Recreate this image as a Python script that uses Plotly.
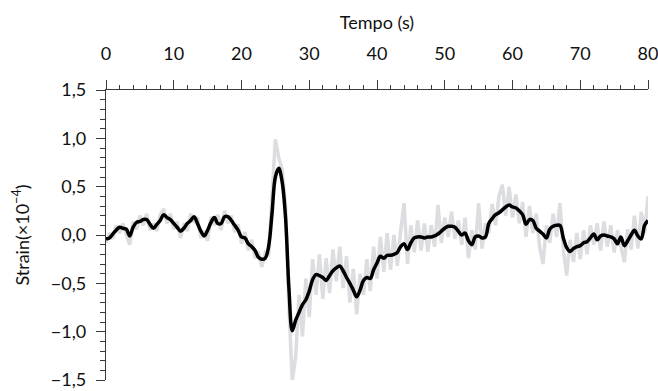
import plotly.graph_objects as go

# time axis (s), 0.5 s steps
tempo = [i * 0.5 for i in range(161)]

# smoothed strain (x1e-4)
strain_suave = [
    -0.04, -0.03, 0.01, 0.05, 0.08, 0.07, 0.06, -0.01, 0.08, 0.13,
    0.14, 0.16, 0.16, 0.11, 0.07, 0.11, 0.15, 0.21, 0.18, 0.16,
    0.12, 0.08, 0.04, 0.07, 0.12, 0.15, 0.19, 0.12, 0.04, -0.01,
    0.05, 0.13, 0.18, 0.12, 0.12, 0.19, 0.19, 0.15, 0.10, 0.05,
    -0.02, -0.03, -0.09, -0.12, -0.16, -0.23, -0.25, -0.24, -0.12, 0.22,
    0.60, 0.69, 0.55, 0.18, -0.55, -0.99, -0.88, -0.80, -0.72, -0.67,
    -0.58, -0.46, -0.41, -0.42, -0.44, -0.47, -0.42, -0.37, -0.34, -0.32,
    -0.37, -0.44, -0.50, -0.57, -0.64, -0.57, -0.47, -0.44, -0.45, -0.36,
    -0.29, -0.22, -0.24, -0.21, -0.21, -0.20, -0.18, -0.12, -0.09, -0.15,
    -0.08, -0.03, -0.02, -0.02, -0.03, -0.02, -0.02, -0.01, 0.01, 0.04,
    0.07, 0.09, 0.09, 0.08, 0.04, 0.00, 0.02, -0.06, -0.10, -0.02,
    -0.01, -0.03, -0.02, 0.12, 0.17, 0.21, 0.23, 0.26, 0.29, 0.31,
    0.29, 0.28, 0.25, 0.21, 0.11, 0.16, 0.15, 0.07, 0.04, 0.01,
    -0.03, 0.06, 0.09, 0.10, 0.10, -0.03, -0.13, -0.17, -0.14, -0.12,
    -0.11, -0.08, -0.07, -0.03, 0.01, -0.05, -0.01, 0.00, -0.01, -0.02,
    -0.04, -0.09, -0.02, -0.11, -0.06, 0.00, 0.05, -0.01, -0.04, 0.10,
    0.15,
]

# raw (noisy) strain
strain_bruto = [
    -0.08, 0.02, -0.04, 0.10, 0.02, 0.12, 0.00, -0.10, 0.14, 0.06,
    0.20, 0.10, 0.22, 0.05, 0.12, 0.04, 0.21, 0.27, 0.12, 0.22,
    0.06, 0.14, -0.03, 0.12, 0.04, 0.22, 0.13, 0.18, -0.03, 0.04,
    -0.06, 0.19, 0.10, 0.21, 0.05, 0.25, 0.12, 0.20, 0.03, 0.11,
    -0.09, 0.03, -0.16, -0.05, -0.24, -0.17, -0.33, -0.18, -0.20, 0.35,
    0.99, 0.80, 0.68, 0.30, -0.75, -1.52, -1.25, -0.62, -1.05, -0.45,
    -0.85, -0.25, -0.62, -0.20, -0.66, -0.24, -0.60, -0.15, -0.48, -0.12,
    -0.55, -0.22, -0.70, -0.35, -0.82, -0.40, -0.62, -0.25, -0.58, -0.12,
    -0.45, -0.02, -0.38, 0.02, -0.36, 0.00, -0.32, 0.05, 0.33, -0.30,
    0.10, -0.18, 0.15, -0.16, 0.12, -0.17, 0.10, -0.12, 0.31, -0.08,
    0.18, -0.02, 0.24, -0.04, 0.15, -0.10, 0.18, -0.24, 0.05, -0.15,
    0.33, -0.14, 0.12, 0.02, 0.32, 0.10, 0.40, 0.52, 0.20, 0.50,
    0.18, 0.42, 0.12, 0.34, -0.02, 0.30, 0.02, 0.22, -0.12, -0.30,
    0.10, -0.08, 0.22, -0.02, 0.33, -0.15, -0.42, -0.05, -0.28, 0.02,
    -0.25, 0.05, -0.20, 0.10, -0.10, 0.12, -0.16, 0.14, -0.12, 0.10,
    -0.18, 0.05, -0.12, -0.28, 0.06, -0.15, 0.20, -0.14, 0.24, 0.02,
    0.40,
]

x_ticks = [0, 10, 20, 30, 40, 50, 60, 70, 80]
y_ticks = [-1.5, -1.0, -0.5, 0.0, 0.5, 1.0, 1.5]

FONT = "Lato"
AX = "#3a3a3a"

fig = go.Figure()
fig.add_trace(go.Scatter(x=tempo, y=strain_bruto, mode="lines",
                         line=dict(color="#dcdde0", width=3.5),
                         showlegend=False, hoverinfo="skip"))
fig.add_trace(go.Scatter(x=tempo, y=strain_suave, mode="lines",
                         line=dict(color="#000000", width=3.5, shape="spline"),
                         showlegend=False))

fig.update_layout(
    width=658, height=391,
    margin=dict(l=106, r=10, t=90, b=11),
    paper_bgcolor="white", plot_bgcolor="white",
    separators=", ",
    font=dict(family=FONT, size=18, color="#111111"),
    xaxis=dict(
        side="top", range=[0, 80], tickvals=x_ticks,
        automargin=False,
        ticks="outside", ticklen=9, tickwidth=1.3, tickcolor=AX,
        showline=True, linecolor=AX, linewidth=1.3,
        showgrid=False, zeroline=False,
        ticklabelstandoff=13, ticklabeloverflow="allow",
        tickfont=dict(size=18),
        title=dict(text="Tempo (s)", font=dict(size=18), standoff=7),
        minor=dict(dtick=2, ticks="outside", ticklen=4, tickwidth=1.2, tickcolor=AX),
    ),
    yaxis=dict(
        range=[-1.5, 1.5], tickvals=y_ticks, tickformat=".1f",
        automargin=False,
        ticks="outside", ticklen=9, tickwidth=1.3, tickcolor=AX,
        showline=True, linecolor=AX, linewidth=1.3,
        showgrid=False, zeroline=False,
        ticklabelstandoff=6, ticklabeloverflow="allow",
        tickfont=dict(size=18),
        title=dict(text="Strain(×10<sup>−4</sup>)", font=dict(size=18), standoff=16),
        minor=dict(dtick=0.1, ticks="outside", ticklen=5, tickwidth=1.2, tickcolor=AX),
    ),
)

fig.write_html("out.html", config={"displayModeBar": False},
               post_script="document.body.style.margin='0';")
